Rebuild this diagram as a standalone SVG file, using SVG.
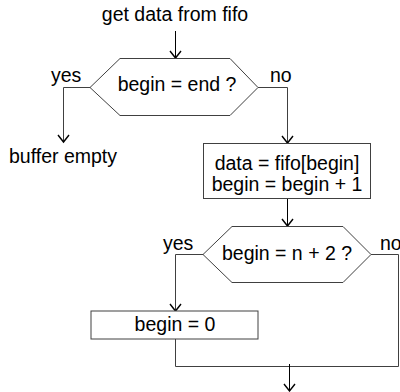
<svg xmlns="http://www.w3.org/2000/svg" xmlns:xlink="http://www.w3.org/1999/xlink" width="400" height="392" viewBox="0 0 400 392">
<defs>
<path id="ah" d="M-5.5,-7 L0,0 L5.5,-7" fill="none" stroke="#000" stroke-width="1.4"/>
<style>
.s{fill:#fff;stroke:#404040;stroke-width:1}
.c{fill:none;stroke:#404040;stroke-width:1}
.a{fill:none;stroke:#000;stroke-width:1}
text{font-family:"Liberation Sans",Arial,sans-serif;font-size:19.5px;fill:#000}
.m{text-anchor:middle}
</style>
</defs>
<g id="connectors">
<line class="a" x1="175.5" y1="31" x2="175.5" y2="58"/>
<use href="#ah" xlink:href="#ah" x="175.5" y="58"/>
<polyline class="c" points="90,87.5 63.5,87.5 63.5,142"/>
<use href="#ah" xlink:href="#ah" x="63.5" y="142"/>
<polyline class="c" points="258,87.5 287.5,87.5 287.5,143"/>
<use href="#ah" xlink:href="#ah" x="287.5" y="143"/>
<line class="a" x1="287.5" y1="198" x2="287.5" y2="226"/>
<use href="#ah" xlink:href="#ah" x="287.5" y="226"/>
<polyline class="c" points="203,254.5 175.5,254.5 175.5,311"/>
<use href="#ah" xlink:href="#ah" x="175.5" y="311"/>
<polyline class="c" points="371,254.5 398.5,254.5 398.5,366.5 175.5,366.5 175.5,339"/>
<line class="a" x1="289.5" y1="364" x2="289.5" y2="391"/>
<use href="#ah" xlink:href="#ah" x="289.5" y="391"/>
</g>
<g id="start"><text class="m" x="175" y="21">get data from fifo</text></g>
<g id="decision1">
<polygon class="s" points="90,87.5 120,58.5 230,58.5 258,87.5 230,115.5 120,115.5"/>
<text class="m" x="177" y="91">begin = end ?</text>
</g>
<g id="labels1">
<text x="51" y="82">yes</text>
<text x="270" y="82">no</text>
</g>
<g id="empty"><text class="m" x="63" y="163">buffer empty</text></g>
<g id="read">
<rect class="s" x="203.5" y="143.5" width="167" height="55"/>
<text class="m" x="287" y="170">data = fifo[begin]</text>
<text class="m" x="287" y="191">begin = begin + 1</text>
</g>
<g id="decision2">
<polygon class="s" points="203,254.5 232,226.5 343,226.5 371,254.5 343,282.5 232,282.5"/>
<text class="m" x="287" y="260">begin = n + 2 ?</text>
</g>
<g id="labels2">
<text x="163" y="250">yes</text>
<text x="380" y="250">no</text>
</g>
<g id="reset">
<rect class="s" x="91" y="311" width="167" height="28"/>
<text class="m" x="175" y="331">begin = 0</text>
</g>
</svg>
